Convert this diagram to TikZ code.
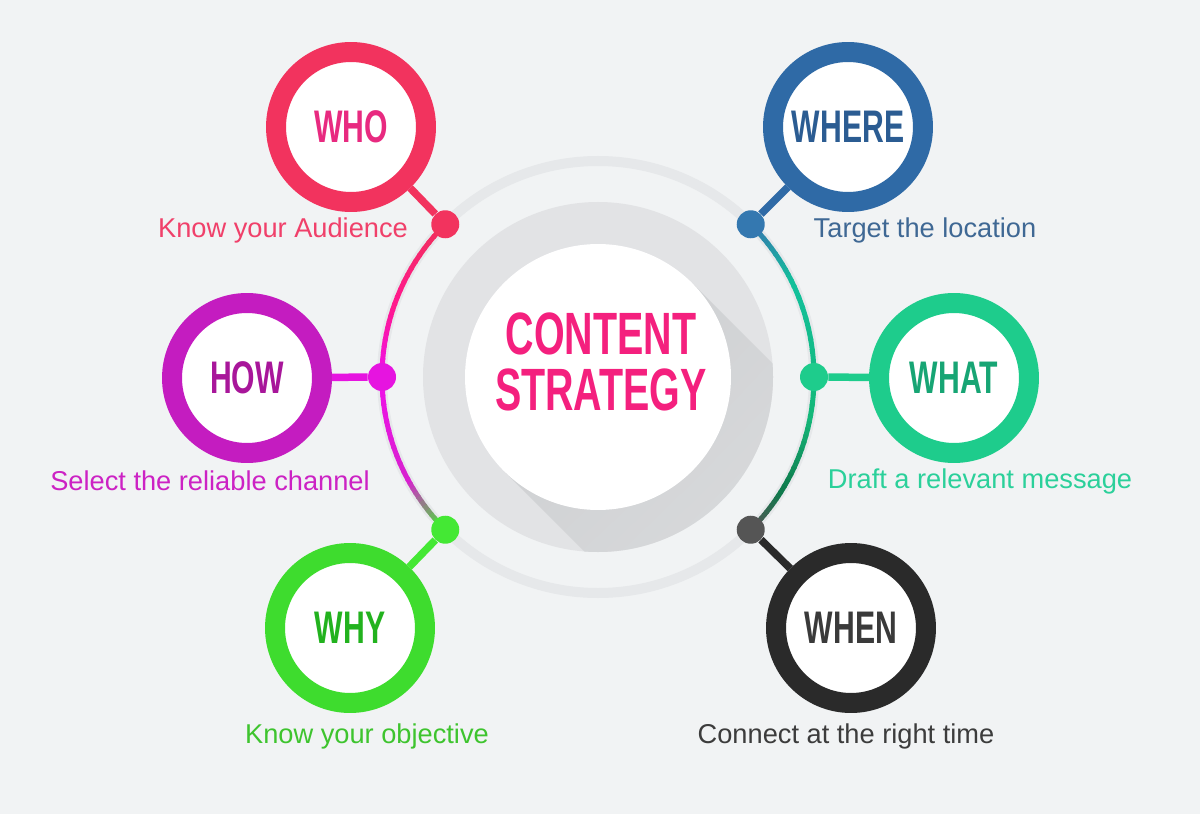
\documentclass[tikz,border=0pt]{standalone}
\usepackage{fontspec}
\setmainfont{Liberation Sans}
\newfontfamily\headfont[FakeStretch=0.66]{Liberation Sans}
\usetikzlibrary{positioning,calc,shadings}
\definecolor{bg}{HTML}{F1F3F4}
\definecolor{greydisk}{HTML}{E2E3E5}
\definecolor{shadowdk}{HTML}{CACCCE}
\definecolor{thinring}{HTML}{E6E8EA}
\definecolor{titlec}{HTML}{F4207E}
% ring, word and caption colours
\definecolor{whoc}{HTML}{F2335E}  \definecolor{whotx}{HTML}{E82A80}  \definecolor{wholb}{HTML}{F0406A}
\definecolor{howc}{HTML}{C41CC0}  \definecolor{howtx}{HTML}{A8169A}  \definecolor{howlb}{HTML}{CC22C4}
\definecolor{whyc}{HTML}{3EDC2E}  \definecolor{whytx}{HTML}{22B21E}  \definecolor{whylb}{HTML}{3EC42E}
\definecolor{wherec}{HTML}{2F6AA6} \definecolor{wheretx}{HTML}{2B5C92} \definecolor{wherelb}{HTML}{3F6894}
\definecolor{whatc}{HTML}{1ECC8C} \definecolor{whattx}{HTML}{17A574} \definecolor{whatlb}{HTML}{2BD09A}
\definecolor{whenc}{HTML}{2A2A2A} \definecolor{whentx}{HTML}{3A3A3A} \definecolor{whenlb}{HTML}{3C3C3C}
% arc colours
\definecolor{arcred}{HTML}{F0305A}
\definecolor{arcpink}{HTML}{FF1A8C}
\definecolor{arcmag}{HTML}{F010E8}
\definecolor{arcmagb}{HTML}{D820D0}
\definecolor{arcgreen}{HTML}{44E834}
\definecolor{arcblue}{HTML}{3478B0}
\definecolor{arcteal}{HTML}{12C09A}
\definecolor{arcgrn}{HTML}{14B87A}
\definecolor{arcdkgrn}{HTML}{0F7A4C}
\definecolor{arcgrey}{HTML}{555555}
\definecolor{howdotc}{HTML}{E614E0}

% arc piece fading from #3 to #4 between angles #1 and #2
\newcommand{\gradarc}[4]{%
  \foreach \i in {0,...,11}{%
    \pgfmathsetmacro{\ta}{#1+(#2-#1)*\i/12}%
    \pgfmathsetmacro{\tb}{#1+(#2-#1)*(\i+1.25)/12}%
    \pgfmathtruncatemacro{\pc}{100-\i*100/11}%
    \draw[arcline,draw=#3!\pc!#4] (ctr) ++(\ta:216)
      arc[start angle=\ta,end angle=\tb,radius=216];
  }}

\begin{document}
\begin{tikzpicture}[x=0.02cm,y=-0.02cm,
  ring/.style={circle,draw=#1,line width=0.4cm,fill=white,minimum size=3cm,
               inner sep=0pt,font=\headfont\bfseries\fontsize{26}{28}\selectfont},
  dot/.style={circle,fill=#1,minimum size=0.56cm,inner sep=0pt},
  conn/.style={draw=#1,line width=0.15cm},
  lbl/.style={font=\fontsize{15.5}{18}\selectfont,text=#1},
  arcline/.style={line width=0.1cm}]

\fill[bg] (0,0) rectangle (1200,814);
\useasboundingbox (0,0) rectangle (1200,814);
\coordinate (ctr) at (598,377);

% grey disk and long shadow
\fill[greydisk] (ctr) circle[radius=175];
\begin{scope}
  \clip (ctr) circle[radius=175];
  \shade[upper left=shadowdk,upper right=greydisk!55!shadowdk,
         lower left=greydisk!55!shadowdk,lower right=greydisk]
    ($(ctr)+(315:133)$) -- ($(ctr)+(315:133)+(260,260)$)
    -- ($(ctr)+(135:133)+(260,260)$) -- ($(ctr)+(135:133)$) -- cycle;
\end{scope}
\draw[thinring,line width=0.2cm] (ctr) circle[radius=216];
\node[circle,fill=white,minimum size=5.32cm,inner sep=0pt] (hub) at (ctr) {};
\node[align=center,text=titlec,font=\headfont\bfseries\fontsize{34}{32}\selectfont]
  (title) at (601,362) {CONTENT\\STRATEGY};

% coloured arcs
\gradarc{225}{200}{arcred}{arcpink}
\gradarc{200}{180}{arcpink}{arcmag}
\gradarc{180}{152}{arcmag}{arcmagb}
\gradarc{152}{135}{arcmagb}{arcgreen}
\gradarc{-45}{-25}{arcblue}{arcteal}
\gradarc{-25}{10}{arcteal}{arcgrn}
\gradarc{10}{32}{arcgrn}{arcdkgrn}
\gradarc{32}{45}{arcdkgrn}{arcgrey}

% rings
\node[ring=whoc,text=whotx] (who) at (351,127) {WHO};
\node[ring=howc,text=howtx] (how) at (247,378) {HOW};
\node[ring=whyc,text=whytx] (why) at (350,628) {WHY};
\node[ring=wherec,text=wheretx] (where) at (848,127) {WHERE};
\node[ring=whatc,text=whattx] (what) at (954,378) {WHAT};
\node[ring=whenc,text=whentx] (when) at (851,628) {WHEN};

% dots on the arc
\node[dot=whoc] (whodot) at ($(ctr)+(225:216)$) {};
\node[dot=howdotc] (howdot) at ($(ctr)+(180:216)$) {};
\node[dot=arcgreen] (whydot) at ($(ctr)+(135:216)$) {};
\node[dot=arcblue] (wheredot) at ($(ctr)+(315:216)$) {};
\node[dot=whatc] (whatdot) at ($(ctr)+(0:216)$) {};
\node[dot=arcgrey] (whendot) at ($(ctr)+(45:216)$) {};

\draw[conn=whoc] (whodot) -- (who);
\draw[conn=howdotc] (howdot) -- (how);
\draw[conn=arcgreen] (whydot) -- (why);
\draw[conn=wherec] (wheredot) -- (where);
\draw[conn=whatc] (whatdot) -- (what);
\draw[conn=whenc] (whendot) -- (when);

% captions
\node[lbl=wholb] (wholabel) at (283,230) {Know your Audience};
\node[lbl=howlb] (howlabel) at (210,481) {Select the reliable channel};
\node[lbl=whylb] (whylabel) at (367,736) {Know your objective};
\node[lbl=wherelb] (wherelabel) at (925,230) {Target the location};
\node[lbl=whatlb] (whatlabel) at (980,481) {Draft a relevant message};
\node[lbl=whenlb] (whenlabel) at (846,736) {Connect at the right time};
\end{tikzpicture}
\end{document}
